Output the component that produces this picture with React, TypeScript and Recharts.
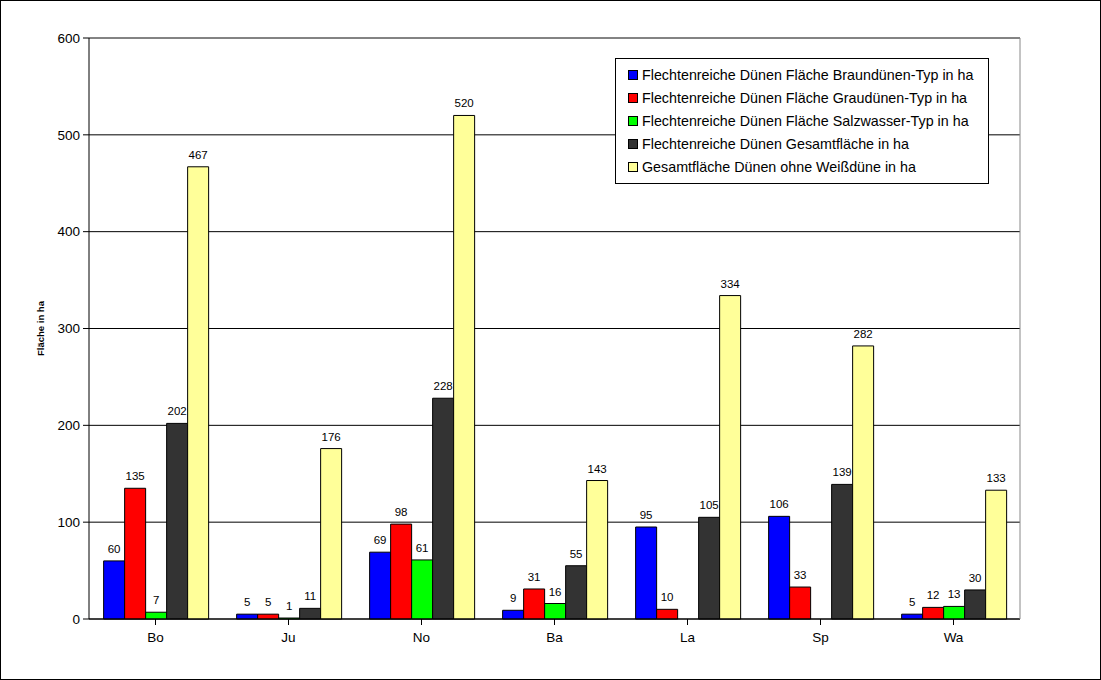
import { Bar, BarChart, CartesianGrid, LabelList, ReferenceLine, XAxis, YAxis } from "recharts";

const categories = ["Bo", "Ju", "No", "Ba", "La", "Sp", "Wa"];
const braun = [60, 5, 69, 9, 95, 106, 5];
const grau = [135, 5, 98, 31, 10, 33, 12];
const salz: (number | null)[] = [7, 1, 61, 16, null, null, 13];
const gesamt = [202, 11, 228, 55, 105, 139, 30];
const ohneWeiss = [467, 176, 520, 143, 334, 282, 133];
const yTicks = [0, 100, 200, 300, 400, 500, 600];

const series = [
  { key: "braun", name: "Flechtenreiche Dünen Fläche Braundünen-Typ in ha", color: "#0000ff" },
  { key: "grau", name: "Flechtenreiche Dünen Fläche Graudünen-Typ in ha", color: "#ff0000" },
  { key: "salz", name: "Flechtenreiche Dünen Fläche Salzwasser-Typ in ha", color: "#00ff00" },
  { key: "gesamt", name: "Flechtenreiche Dünen Gesamtfläche in ha", color: "#333333" },
  { key: "ohneWeiss", name: "Gesamtfläche Dünen ohne Weißdüne in ha", color: "#ffff99" },
];

const data = categories.map((cat, i) => ({
  cat,
  braun: braun[i],
  grau: grau[i],
  salz: salz[i],
  gesamt: gesamt[i],
  ohneWeiss: ohneWeiss[i],
}));

const FONT = "'Liberation Sans', Arial, sans-serif";

// legend is plain html on top of the chart so it does not push the plot down
function LegendBox() {
  return (
    <div
      style={{
        position: "absolute",
        top: 57,
        left: 614,
        width: 360,
        border: "1px solid #000",
        background: "#fff",
        padding: "4px 0 5px 12px",
        fontFamily: FONT,
        fontSize: 14.3,
        color: "#000",
        whiteSpace: "nowrap",
      }}
    >
      {series.map((s) => (
        <div key={s.key} style={{ display: "flex", alignItems: "center", height: 23 }}>
          <span
            style={{
              display: "inline-block",
              width: 8,
              height: 8,
              background: s.color,
              border: "1px solid #000",
              marginRight: 4,
            }}
          />
          {s.name}
        </div>
      ))}
    </div>
  );
}

export default function App() {
  return (
    <div style={{ width: 1099, height: 678, border: "1px solid #000", background: "#fff", position: "relative" }}>
      <style>{`body{margin:0}`}</style>
      <BarChart
        width={1099}
        height={678}
        data={data}
        margin={{ top: 37, right: 0, left: 0, bottom: 30 }}
        barCategoryGap="11%"
        barGap={0}
      >
        <CartesianGrid yAxisId="left" vertical={false} stroke="#000" />
        <XAxis
          dataKey="cat"
          stroke="#000"
          tickLine={{ stroke: "#000" }}
          tick={{ fill: "#000", fontSize: 13.5, fontFamily: FONT }}
          tickMargin={7}
          height={30}
        />
        <YAxis
          yAxisId="left"
          domain={[0, 600]}
          ticks={yTicks}
          width={88}
          stroke="#000"
          tickMargin={3}
          tick={{ fill: "#000", fontSize: 13.5, fontFamily: FONT }}
          label={{
            value: "Fläche in ha",
            angle: -90,
            position: "insideLeft",
            offset: 40,
            style: { fontSize: 9.5, fontWeight: "bold", fontFamily: FONT, fill: "#000", textAnchor: "middle" },
          }}
        />
        <YAxis yAxisId="right" orientation="right" width={80} stroke="#888" tick={false} tickLine={false} domain={[0, 600]} />
        <ReferenceLine yAxisId="left" y={600} stroke="#888" />
        {series.map((s) => (
          <Bar
            key={s.key}
            yAxisId="left"
            dataKey={s.key}
            name={s.name}
            fill={s.color}
            stroke="#000"
            strokeWidth={1}
            isAnimationActive={false}
          >
            <LabelList
              dataKey={s.key}
              position="top"
              offset={8}
              fill="#000"
              stroke="none"
              fontSize={11.5}
              fontFamily={FONT}
              formatter={(v: any) => (v === null || v === undefined ? "" : v)}
            />
          </Bar>
        ))}
      </BarChart>
      <LegendBox />
    </div>
  );
}
